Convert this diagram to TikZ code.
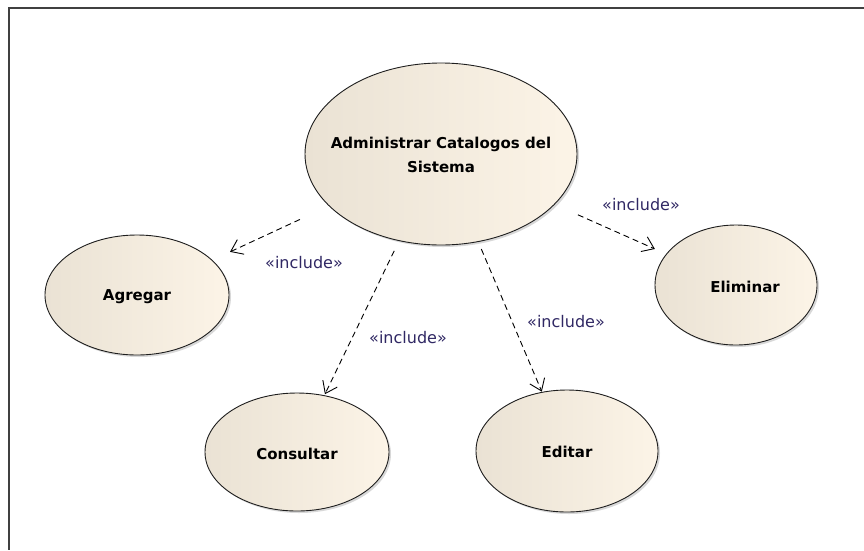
\documentclass[tikz,border=0pt]{standalone}
\usepackage{fontspec}
\setmainfont{DejaVu Sans}
\usetikzlibrary{shapes.geometric,arrows.meta,calc,shadows}
\definecolor{ucfillL}{RGB}{234,226,212}
\definecolor{ucfillR}{RGB}{252,244,231}
\definecolor{ucline}{RGB}{30,30,30}
\definecolor{stereo}{RGB}{48,40,100}
\definecolor{framegray}{RGB}{64,64,64}
\begin{document}
\begin{tikzpicture}[x=1pt,y=-1pt,
  usecase/.style={ellipse, draw=ucline, line width=0.9pt,
    left color=ucfillL, right color=ucfillR, inner sep=0pt,
    drop shadow={shadow xshift=2pt, shadow yshift=-2pt, opacity=0.25, fill=black!60}},
  uctext/.style={font=\bfseries\fontsize{15}{24}\selectfont, text=black, align=center},
  include/.style={dash pattern=on 6pt off 4pt, line width=0.9pt,
    -{Straight Barb[length=11pt,width=16pt]}},
  stereotype/.style={font=\fontsize{16}{18}\selectfont, text=stereo, inner sep=0pt}
]
\useasboundingbox (0,0) rectangle (864,550);
\fill[white] (0,0) rectangle (864,550);

% diagram frame
\draw[framegray, line width=2pt] (864,7.5) -- (8.5,7.5) -- (8.5,550);

% use cases (ellipse size fixed, name set as a centred label)
\node[usecase, minimum width=272pt, minimum height=182pt,
  label={[uctext, yshift=-1pt]center:Administrar Catalogos del\\Sistema}] (main) at (441,154) {};
\node[usecase, minimum width=184pt, minimum height=120pt,
  label={[uctext, yshift=-2pt]center:Agregar}] (agr) at (137,295) {};
\node[usecase, minimum width=162pt, minimum height=120pt,
  label={[uctext, xshift=9pt, yshift=-2pt]center:Eliminar}] (elim) at (736,285) {};
\node[usecase, minimum width=184pt, minimum height=118pt,
  label={[uctext, yshift=-2pt]center:Consultar}] (cons) at (297,452) {};
\node[usecase, minimum width=182pt, minimum height=122pt,
  label={[uctext, yshift=-1pt]center:Editar}] (edit) at (567,451) {};

% include relations
\draw[include] ($(main)!0.464!(agr)$)  -- ($(main)!0.694!(agr)$);
\draw[include] ($(main)!0.464!(elim)$) -- ($(main)!0.725!(elim)$);
\draw[include] ($(main)!0.325!(cons)$) -- ($(main)!0.806!(cons)$);
\draw[include] ($(main)!0.320!(edit)$) -- ($(main)!0.800!(edit)$);

% stereotype labels
\node[stereotype] (lagr)  at (304,263) {«include»};
\node[stereotype] (lelim) at (641,205) {«include»};
\node[stereotype] (lcons) at (408,338) {«include»};
\node[stereotype] (ledit) at (566,322) {«include»};
\end{tikzpicture}
\end{document}
